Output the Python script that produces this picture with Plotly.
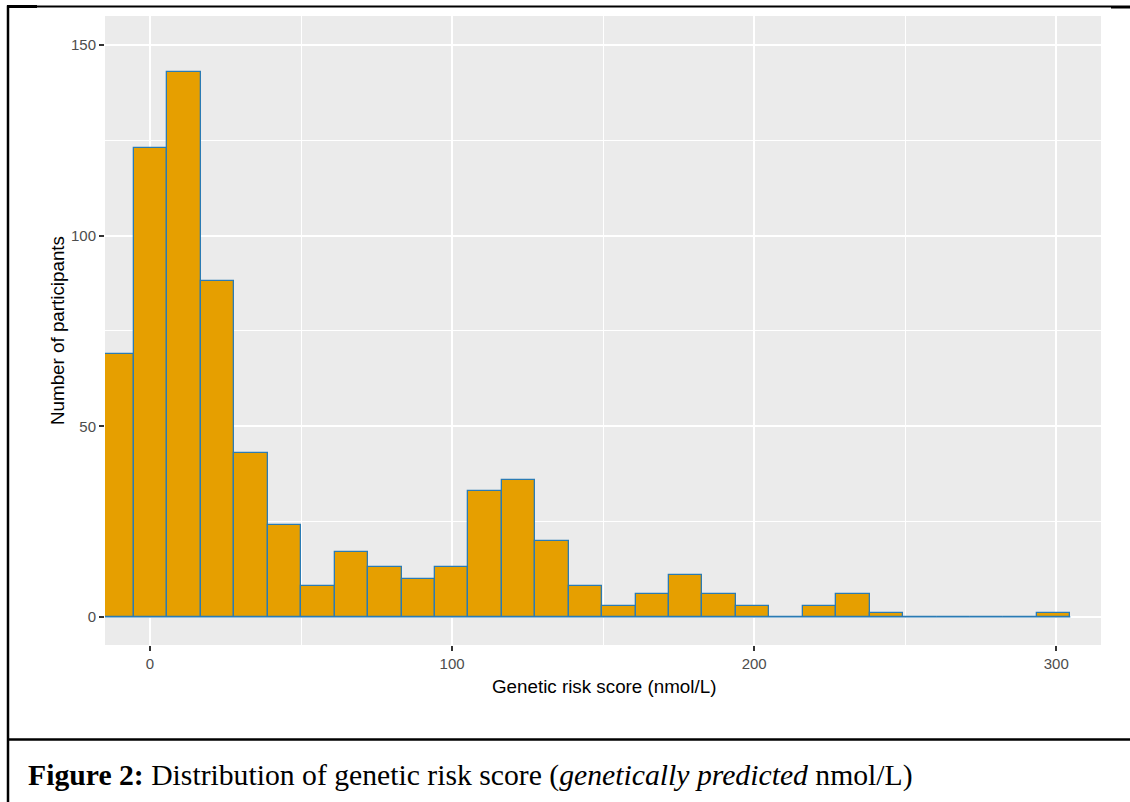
import numpy as np
import plotly.graph_objects as go

# ---- data ----
bin_start = -16.38      # left edge of first bin (nmol/L)
bin_width = 11.07       # histogram bin width
counts = [69, 123, 143, 88, 43, 24, 8, 17, 13, 10, 13, 33, 36, 20, 8,
          3, 6, 11, 6, 3, 0, 3, 6, 1, 0, 0, 0, 0, 1]
x_ticks = [0, 100, 200, 300]
y_ticks = [0, 50, 100, 150]
x_title = "Genetic risk score (nmol/L)"
y_title = "Number of participants"
caption = "<b>Figure 2:</b> Distribution of genetic risk score (<i>genetically predicted</i> nmol/L)"

counts = np.array(counts)
edges = bin_start + bin_width * np.arange(len(counts) + 1)
centers = edges[:-1] + bin_width / 2

# ---- layout geometry (pixels) ----
W, H = 1130, 802
L, R, T, B = 105, 29, 16, 157
PW, PH = W - L - R, H - T - B

def px(xp):
    return (xp - L) / PW

def py(yp):
    return (H - B - yp) / PH

FILL = "#E69F00"
EDGE = "#2B7BB4"

fig = go.Figure()
# baseline outline for empty bins (as ggplot draws them)
fig.add_trace(go.Scatter(x=[edges[0], edges[-1]], y=[0, 0], mode="lines",
                         line=dict(color=EDGE, width=1.3), hoverinfo="skip",
                         showlegend=False))
fig.add_trace(go.Bar(x=centers, y=counts, width=bin_width,
                     marker=dict(color=FILL, line=dict(color=EDGE, width=1.3)),
                     showlegend=False))

tickfont = dict(family="Liberation Sans, Arial, sans-serif", size=15, color="#4D4D4D")
fig.update_xaxes(range=[-14.9, 314.8], tickvals=x_ticks, ticks="outside", ticklen=5,
                 tickwidth=1.5, tickcolor="#333333", tickfont=tickfont,
                 showgrid=True, gridcolor="white", gridwidth=2, zeroline=False,
                 showline=False,
                 minor=dict(dtick=50, tick0=0, showgrid=True, gridcolor="white",
                            gridwidth=1, ticks=""))
fig.update_yaxes(range=[-7.35, 157.6], tickvals=y_ticks, ticks="outside", ticklen=5,
                 tickwidth=1.5, tickcolor="#333333", tickfont=tickfont,
                 showgrid=True, gridcolor="white", gridwidth=2, zeroline=False,
                 showline=False,
                 minor=dict(dtick=25, tick0=0, showgrid=True, gridcolor="white",
                            gridwidth=1, ticks=""))

titlefont = dict(family="Liberation Sans, Arial, sans-serif", size=18.8, color="black")
annotations = [
    dict(text=x_title, x=px(604), y=py(686), xref="paper", yref="paper",
         xanchor="center", yanchor="middle", showarrow=False, font=titlefont),
    dict(text=y_title, x=px(57), y=py(331), xref="paper", yref="paper",
         xanchor="center", yanchor="middle", showarrow=False, font=titlefont,
         textangle=-90),
    dict(text=caption, x=px(26), y=py(775), xref="paper", yref="paper",
         xanchor="left", yanchor="middle", showarrow=False,
         font=dict(family="Liberation Serif, Times New Roman, serif", size=29.7,
                   color="black")),
]

def hline(x0, x1, y, w):
    return dict(type="line", xref="paper", yref="paper", x0=px(x0), x1=px(x1),
                y0=py(y), y1=py(y), line=dict(color="black", width=w))

def vline(x, y0, y1, w):
    return dict(type="line", xref="paper", yref="paper", x0=px(x), x1=px(x),
                y0=py(y0), y1=py(y1), line=dict(color="black", width=w))

shapes = [
    hline(7, 1111, 6.5, 2),
    hline(7, 37, 6.5, 3),
    hline(1111, 1130, 7, 3),
    vline(8, 5.5, 802, 2.5),
    hline(8, 1130, 739.5, 2.5),
]

fig.update_layout(width=W, height=H, margin=dict(l=L, r=R, t=T, b=B),
                  paper_bgcolor="white", plot_bgcolor="#EBEBEB",
                  bargap=0, annotations=annotations, shapes=shapes)

fig.write_html("out.html", config={"displayModeBar": False},
               post_script="document.body.style.margin='0';document.body.style.overflow='hidden';")
